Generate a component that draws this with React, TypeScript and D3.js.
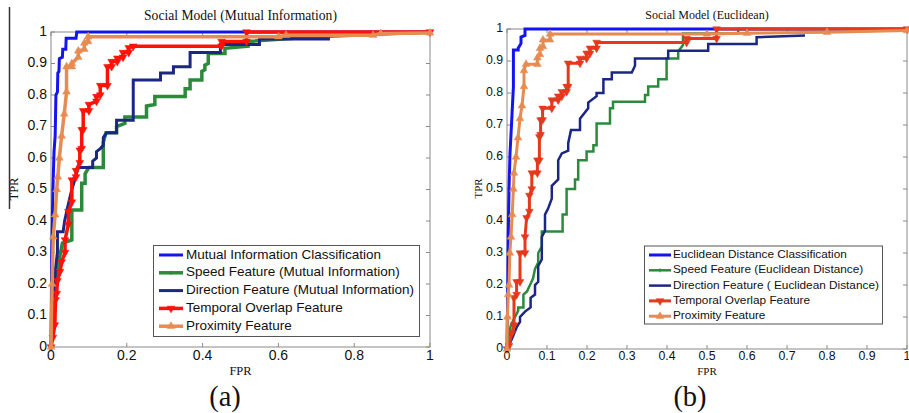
import React from "react";
import * as d3 from "d3";

// ---------- Panel (a): Social Model (Mutual Information) ----------
const seriesNames_A = [
  "Mutual Information Classification",
  "Speed Feature (Mutual Information)",
  "Direction Feature (Mutual Information)",
  "Temporal Overlap Feature",
  "Proximity Feature",
];
const xTicks_A = [0, 0.2, 0.4, 0.6, 0.8, 1];
const xTickLabels_A = ["0", "0.2", "0.4", "0.6", "0.8", "1"];
const yTicks = [0, 0.1, 0.2, 0.3, 0.4, 0.5, 0.6, 0.7, 0.8, 0.9, 1];
const yTickLabels = ["0", "0.1", "0.2", "0.3", "0.4", "0.5", "0.6", "0.7", "0.8", "0.9", "1"];

const blue_A: [number, number][] = [
  [0, 0], [0.002, 0.3], [0.005, 0.5], [0.008, 0.62], [0.011, 0.67], [0.013, 0.8],
  [0.017, 0.81], [0.018, 0.87], [0.021, 0.875], [0.022, 0.915], [0.03, 0.92],
  [0.031, 0.945], [0.039, 0.945], [0.04, 0.98], [0.066, 0.98], [0.068, 1], [1, 1],
];
const green_A: [number, number][] = [
  [0, 0], [0.005, 0.08], [0.01, 0.15], [0.015, 0.22], [0.022, 0.28], [0.03, 0.33],
  [0.055, 0.34], [0.055, 0.435], [0.081, 0.435], [0.081, 0.52], [0.09, 0.52],
  [0.09, 0.55], [0.1, 0.57], [0.138, 0.57], [0.138, 0.65], [0.145, 0.68],
  [0.173, 0.68], [0.173, 0.7], [0.195, 0.71], [0.195, 0.73], [0.252, 0.73],
  [0.252, 0.765], [0.274, 0.77], [0.274, 0.795], [0.354, 0.795], [0.354, 0.82],
  [0.367, 0.82], [0.367, 0.848], [0.398, 0.848], [0.398, 0.875], [0.406, 0.88],
  [0.406, 0.895], [0.415, 0.9], [0.415, 0.932], [0.459, 0.932], [0.459, 0.948],
  [0.52, 0.955], [0.52, 0.97], [0.7, 0.985], [1, 1],
];
const navy_A: [number, number][] = [
  [0, 0], [0.004, 0.08], [0.008, 0.16], [0.012, 0.25], [0.017, 0.3], [0.017, 0.366],
  [0.032, 0.366], [0.036, 0.4], [0.045, 0.45], [0.055, 0.5], [0.065, 0.54],
  [0.072, 0.57], [0.11, 0.57], [0.11, 0.59], [0.12, 0.6], [0.12, 0.62], [0.13, 0.63],
  [0.138, 0.64], [0.138, 0.665], [0.147, 0.68], [0.173, 0.68], [0.173, 0.72],
  [0.217, 0.72], [0.217, 0.848], [0.289, 0.848], [0.289, 0.87], [0.323, 0.87],
  [0.323, 0.89], [0.367, 0.89], [0.367, 0.935], [0.447, 0.935], [0.447, 0.96],
  [0.55, 0.96], [0.55, 0.978], [0.736, 0.978],
];
const red_A: [number, number][] = [
  [0, 0], [0.005, 0.03], [0.01, 0.07], [0.012, 0.15], [0.015, 0.17], [0.017, 0.21],
  [0.024, 0.24], [0.028, 0.27], [0.037, 0.3], [0.037, 0.34], [0.046, 0.39],
  [0.046, 0.43], [0.055, 0.46], [0.055, 0.53], [0.066, 0.54], [0.066, 0.56],
  [0.076, 0.585], [0.076, 0.625], [0.081, 0.63], [0.081, 0.69], [0.085, 0.69],
  [0.085, 0.75], [0.1, 0.75], [0.1, 0.77], [0.12, 0.78], [0.12, 0.795], [0.13, 0.8],
  [0.13, 0.83], [0.149, 0.83], [0.149, 0.89], [0.16, 0.89], [0.16, 0.906],
  [0.175, 0.906], [0.175, 0.917], [0.19, 0.92], [0.19, 0.935], [0.205, 0.935],
  [0.205, 0.95], [0.217, 0.955], [0.45, 0.955], [0.45, 0.97], [0.516, 0.97],
  [0.516, 1], [1, 1],
];
const orange_A: [number, number][] = [
  [0, 0], [0.003, 0.2], [0.006, 0.35], [0.011, 0.42], [0.015, 0.5], [0.018, 0.54],
  [0.022, 0.6], [0.028, 0.67], [0.035, 0.74], [0.041, 0.81], [0.041, 0.89],
  [0.055, 0.89], [0.055, 0.9], [0.072, 0.92], [0.072, 0.94], [0.088, 0.945],
  [0.088, 0.965], [0.098, 0.97], [0.098, 0.985], [0.6, 0.985], [0.62, 0.99],
  [0.85, 0.99], [0.87, 0.995], [1, 0.997],
];

// ---------- Panel (b): Social Model (Euclidean) ----------
const seriesNames_B = [
  "Euclidean Distance Classification",
  "Speed Feature (Euclidean Distance)",
  "Direction Feature ( Euclidean Distance)",
  "Temporal Overlap Feature",
  "Proximity Feature",
];
const xTicks_B = [0, 0.1, 0.2, 0.3, 0.4, 0.5, 0.6, 0.7, 0.8, 0.9, 1];
const xTickLabels_B = ["0", "0.1", "0.2", "0.3", "0.4", "0.5", "0.6", "0.7", "0.8", "0.9", "1"];

const blue_B: [number, number][] = [
  [0, 0], [0.002, 0.2], [0.003, 0.35], [0.005, 0.5], [0.0075, 0.61], [0.012, 0.72],
  [0.016, 0.82], [0.016, 0.934], [0.028, 0.934], [0.028, 0.94], [0.035, 0.955],
  [0.035, 0.975], [0.045, 0.98], [0.045, 1], [1, 1],
];
const green_B: [number, number][] = [
  [0, 0], [0.005, 0.05], [0.01, 0.075], [0.02, 0.1], [0.028, 0.12], [0.028, 0.13],
  [0.041, 0.13], [0.041, 0.17], [0.05, 0.18], [0.0575, 0.2], [0.065, 0.22],
  [0.07, 0.25], [0.078, 0.27], [0.078, 0.3], [0.087, 0.32], [0.087, 0.367],
  [0.139, 0.367], [0.139, 0.42], [0.149, 0.42], [0.149, 0.5], [0.17, 0.5],
  [0.17, 0.53], [0.178, 0.53], [0.178, 0.59], [0.199, 0.59], [0.199, 0.617],
  [0.216, 0.617], [0.216, 0.637], [0.224, 0.637], [0.224, 0.705], [0.2575, 0.705],
  [0.2575, 0.752], [0.265, 0.752], [0.265, 0.773], [0.345, 0.773], [0.345, 0.794],
  [0.353, 0.794], [0.353, 0.82], [0.378, 0.82], [0.378, 0.843], [0.399, 0.843],
  [0.399, 0.908], [0.428, 0.908], [0.428, 0.93], [0.44, 0.95], [0.44, 0.986],
  [0.578, 0.986], [0.578, 1], [1, 1],
];
const navy_B: [number, number][] = [
  [0, 0], [0.003, 0.005], [0.015, 0.04], [0.025, 0.07], [0.0325, 0.085],
  [0.0325, 0.1], [0.045, 0.117], [0.059, 0.13], [0.059, 0.16], [0.07, 0.17],
  [0.07, 0.2], [0.078, 0.21], [0.078, 0.26], [0.087, 0.28], [0.087, 0.35],
  [0.095, 0.37], [0.095, 0.42], [0.103, 0.44], [0.112, 0.47], [0.112, 0.51],
  [0.12, 0.52], [0.128, 0.53], [0.128, 0.59], [0.137, 0.611], [0.153, 0.62],
  [0.153, 0.643], [0.16, 0.684], [0.1825, 0.684], [0.1825, 0.72], [0.203, 0.752],
  [0.203, 0.77], [0.224, 0.79], [0.224, 0.8], [0.241, 0.8], [0.241, 0.843],
  [0.262, 0.843], [0.262, 0.864], [0.312, 0.864], [0.32, 0.885], [0.32, 0.908],
  [0.403, 0.908], [0.403, 0.932], [0.503, 0.932], [0.503, 0.953], [0.624, 0.953],
  [0.624, 0.974], [0.745, 0.98],
];
const red_B: [number, number][] = [
  [0, 0], [0.005, 0.01], [0.012, 0.05], [0.0175, 0.075], [0.0175, 0.16], [0.024, 0.17],
  [0.024, 0.21], [0.0325, 0.21], [0.0325, 0.3], [0.045, 0.3], [0.045, 0.35],
  [0.049, 0.41], [0.056, 0.43], [0.056, 0.48], [0.062, 0.5], [0.062, 0.55],
  [0.076, 0.55], [0.076, 0.59], [0.081, 0.59], [0.081, 0.663], [0.084, 0.67],
  [0.084, 0.716], [0.089, 0.716], [0.089, 0.752], [0.112, 0.752], [0.112, 0.778],
  [0.128, 0.778], [0.128, 0.79], [0.137, 0.79], [0.137, 0.804], [0.149, 0.804],
  [0.149, 0.82], [0.153, 0.82], [0.153, 0.893], [0.1825, 0.893], [0.1825, 0.908],
  [0.199, 0.908], [0.199, 0.924], [0.2075, 0.924], [0.2075, 0.94], [0.224, 0.94],
  [0.224, 0.958], [0.449, 0.958], [0.449, 0.97], [0.524, 0.97], [0.524, 1], [1, 1],
];
const orange_B: [number, number][] = [
  [0, 0], [0.001, 0.1], [0.003, 0.17], [0.005, 0.2], [0.007, 0.3], [0.01, 0.35],
  [0.013, 0.42], [0.016, 0.5], [0.0175, 0.55], [0.0225, 0.6], [0.0275, 0.66],
  [0.0325, 0.72], [0.0375, 0.76], [0.0425, 0.82], [0.0425, 0.87], [0.0475, 0.89],
  [0.076, 0.89], [0.076, 0.91], [0.0825, 0.92], [0.0825, 0.94], [0.09, 0.945],
  [0.09, 0.966], [0.1075, 0.966], [0.1075, 0.984], [0.5, 0.984], [0.6, 0.987],
  [0.8, 0.99], [1, 0.995],
];

type Pt = [number, number];
type Series = { data: Pt[]; color: string; width: number; marker: "none" | "down" | "up" | "plus" };

type PanelProps = {
  xr: [number, number];
  yr: [number, number];
  title: string;
  titleSize: number;
  titleY: number;
  tickSize: number;
  tickLabelY: number;
  labelSize: number;
  xTicks: number[];
  xTickLabels: string[];
  series: Series[];
  names: string[];
  legend: { x: number; y: number; w: number; h: number; lineX0: number; lineX1: number; textX: number; rowY0: number; rowDy: number; size: number };
  fprY: number;
  tprX: number;
  panelLabel: string;
  panelLabelX: number;
};

function Panel(p: PanelProps) {
  const x = d3.scaleLinear().domain([0, 1]).range(p.xr);
  const y = d3.scaleLinear().domain([0, 1]).range(p.yr);
  const line = d3.line<Pt>().x((d) => x(d[0])).y((d) => y(d[1]));
  const tri = d3.symbol().type(d3.symbolTriangle).size(26);
  const triPath = tri() as string;
  const [x0, x1] = p.xr;
  const [yb, yt] = p.yr;
  const axisColor = "#8a8a8a";
  const tickLen = 4;
  const font = "'Liberation Sans', Arial, sans-serif";
  const serif = "'Liberation Serif', 'Times New Roman', serif";

  const markerEl = (m: Series["marker"], cx: number, cy: number, color: string, key: string) => {
    if (m === "down")
      return <path key={key} d={triPath} transform={`translate(${cx},${cy}) rotate(180)`} fill={color} stroke={color} strokeWidth={0.5} />;
    if (m === "up")
      return <path key={key} d={triPath} transform={`translate(${cx},${cy})`} fill={color} stroke={color} strokeWidth={0.5} />;
    if (m === "plus")
      return (
        <g key={key} stroke={color} strokeWidth={1}>
          <line x1={cx - 2} x2={cx + 2} y1={cy} y2={cy} />
          <line x1={cx} x2={cx} y1={cy - 2} y2={cy + 2} />
        </g>
      );
    return null;
  };

  return (
    <g>
      <rect x={x0} y={yt} width={x1 - x0} height={yb - yt} fill="white" stroke={axisColor} strokeWidth={1} />
      {p.xTicks.map((t, i) => (
        <g key={"xt" + i} stroke={axisColor} strokeWidth={1}>
          <line x1={x(t)} x2={x(t)} y1={yb} y2={yb - tickLen} />
          <line x1={x(t)} x2={x(t)} y1={yt} y2={yt + tickLen} />
        </g>
      ))}
      {yTicks.map((t, i) => (
        <g key={"yt" + i} stroke={axisColor} strokeWidth={1}>
          <line x1={x0} x2={x0 + tickLen} y1={y(t)} y2={y(t)} />
          <line x1={x1} x2={x1 - tickLen} y1={y(t)} y2={y(t)} />
        </g>
      ))}
      {p.series.map((s, i) => (
        <g key={"s" + i}>
          <path d={line(s.data) as string} fill="none" stroke={s.color} strokeWidth={s.width} strokeLinejoin="miter" />
          {s.marker !== "none" && s.marker !== "plus" &&
            s.data.map((d, j) => markerEl(s.marker, x(d[0]), y(d[1]), s.color, `m${i}-${j}`))}
        </g>
      ))}
      {p.xTicks.map((t, i) => (
        <text key={"xl" + i} x={x(t)} y={p.tickLabelY} fontFamily={font} fontSize={p.tickSize} textAnchor="middle" dominantBaseline="middle" fill="#111">
          {p.xTickLabels[i]}
        </text>
      ))}
      {yTicks.map((t, i) => (
        <text key={"yl" + i} x={x0 - 4} y={y(t)} fontFamily={font} fontSize={p.tickSize} textAnchor="end" dominantBaseline="middle" fill="#111">
          {yTickLabels[i]}
        </text>
      ))}
      <text x={(x0 + x1) / 2} y={p.titleY} fontFamily={serif} fontSize={p.titleSize} textAnchor="middle" dominantBaseline="middle" fill="#111">
        {p.title}
      </text>
      <text x={(x0 + x1) / 2} y={p.fprY} fontFamily={serif} fontSize={p.labelSize} textAnchor="middle" dominantBaseline="middle" fill="#111">
        FPR
      </text>
      <text transform={`translate(${p.tprX},${(yb + yt) / 2 - 0.5}) rotate(-90)`} fontFamily={serif} fontSize={p.labelSize} textAnchor="middle" dominantBaseline="middle" fill="#111">
        TPR
      </text>
      <rect x={p.legend.x} y={p.legend.y} width={p.legend.w} height={p.legend.h} fill="white" stroke="#555" strokeWidth={1} />
      {p.series.map((s, i) => {
        const ly = p.legend.rowY0 + i * p.legend.rowDy;
        const mx = (p.legend.lineX0 + p.legend.lineX1) / 2;
        return (
          <g key={"lg" + i}>
            <line x1={p.legend.lineX0} x2={p.legend.lineX1} y1={ly} y2={ly} stroke={s.color} strokeWidth={s.width} />
            {markerEl(s.marker, mx, ly, s.color, "lm" + i)}
            <text x={p.legend.textX} y={ly} fontFamily={font} fontSize={p.legend.size} dominantBaseline="middle" fill="#111">
              {p.names[i]}
            </text>
          </g>
        );
      })}
      <text x={p.panelLabelX} y={406} fontFamily={serif} fontSize={28.5} textAnchor="middle" fill="#111">
        {p.panelLabel}
      </text>
    </g>
  );
}

export default function App() {
  const seriesA: Series[] = [
    { data: blue_A, color: "#1414f0", width: 3, marker: "none" },
    { data: green_A, color: "#2b8a3c", width: 3.5, marker: "plus" },
    { data: navy_A, color: "#1c2784", width: 3, marker: "none" },
    { data: red_A, color: "#ff1208", width: 3.5, marker: "down" },
    { data: orange_A, color: "#e68c52", width: 3.5, marker: "up" },
  ];
  const seriesB: Series[] = [
    { data: blue_B, color: "#1414f0", width: 3, marker: "none" },
    { data: green_B, color: "#2b8a3c", width: 2.5, marker: "plus" },
    { data: navy_B, color: "#1c2784", width: 2.5, marker: "none" },
    { data: red_B, color: "#e5381c", width: 3, marker: "down" },
    { data: orange_B, color: "#e68c52", width: 3, marker: "up" },
  ];
  return (
    <svg width={909} height={413} style={{ position: "absolute", left: 0, top: 0, background: "white" }}>
      <rect x={0} y={0} width={909} height={413} fill="white" />
      <line x1={9.5} x2={9.5} y1={7} y2={209} stroke="#333" strokeWidth={1.5} />
      <Panel
        xr={[51, 430]}
        yr={[347, 32]}
        title="Social Model (Mutual Information)"
        titleSize={13.6}
        titleY={17}
        tickSize={14}
        tickLabelY={356}
        labelSize={12.5}
        xTicks={xTicks_A}
        xTickLabels={xTickLabels_A}
        series={seriesA}
        names={seriesNames_A}
        legend={{ x: 153.5, y: 245.5, w: 266, h: 91, lineX0: 159, lineX1: 183, textX: 186, rowY0: 255, rowDy: 17.8, size: 13.5 }}
        fprY={372}
        tprX={15}
        panelLabel="(a)"
        panelLabelX={225}
      />
      <Panel
        xr={[507, 907]}
        yr={[349, 29]}
        title="Social Model (Euclidean)"
        titleSize={12}
        titleY={16}
        tickSize={12.3}
        tickLabelY={357}
        labelSize={11}
        xTicks={xTicks_B}
        xTickLabels={xTickLabels_B}
        series={seriesB}
        names={seriesNames_B}
        legend={{ x: 644.5, y: 246, w: 238, h: 78, lineX0: 649, lineX1: 671, textX: 673, rowY0: 255, rowDy: 15.3, size: 11.8 }}
        fprY={372}
        tprX={479}
        panelLabel="(b)"
        panelLabelX={690}
      />
    </svg>
  );
}
